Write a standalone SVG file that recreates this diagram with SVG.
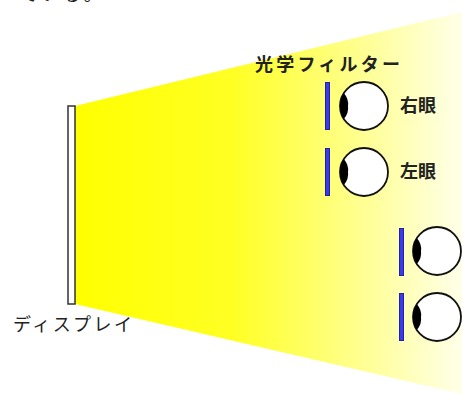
<svg xmlns="http://www.w3.org/2000/svg" width="462" height="394" viewBox="0 0 462 394">
  <defs>
    <linearGradient id="beam" gradientUnits="userSpaceOnUse" x1="75" y1="0" x2="470" y2="0">
      <stop offset="0" stop-color="#ffff00"/>
      <stop offset="0.4" stop-color="#ffff24"/>
      <stop offset="0.72" stop-color="#ffff90"/>
      <stop offset="1" stop-color="#fffff0"/>
    </linearGradient>
    <!-- eye: white eyeball with a dark lens on the side facing the display -->
    <g id="eye">
      <circle cx="0" cy="0" r="24" fill="#ffffff" stroke="#111111" stroke-width="1.8"/>
      <path d="M -20.2,-13 A 24 24 0 0 0 -20.2,13 Q -15,7 -16,0 Q -15,-7 -20.2,-13 Z" fill="#000000"/>
    </g>
  </defs>
  <style>
    text { font-family: "Noto Sans CJK JP", "Noto Sans", sans-serif; fill: #222222; font-weight: 700; }
    .thin { font-weight: 400; }
    .filter { fill: #3a3af0; stroke: #22229a; stroke-width: 1; }
  </style>

  <rect width="462" height="394" fill="#ffffff"/>

  <!-- caption fragment at the top edge -->
  <text class="thin" x="19" y="1" font-size="19" letter-spacing="2.5">ている。</text>

  <!-- light spreading from the display -->
  <polygon id="light" points="75,106 462,12 462,394 75,304" fill="url(#beam)"/>

  <g id="display">
    <rect x="68" y="106" width="7" height="198" fill="#ffffff" stroke="#333333" stroke-width="1.5"/>
    <text class="thin" x="13" y="331" font-size="18" textLength="119" lengthAdjust="spacing">ディスプレイ</text>
  </g>

  <g id="filter-label">
    <text x="255" y="71" font-size="18" textLength="145" lengthAdjust="spacing">光学フィルター</text>
  </g>

  <g id="viewer-1-right">
    <rect class="filter" x="325.5" y="82.5" width="4" height="47"/>
    <use href="#eye" x="364" y="106"/>
    <text x="400" y="112" font-size="18">右眼</text>
  </g>

  <g id="viewer-1-left">
    <rect class="filter" x="325.5" y="148.5" width="4" height="47"/>
    <use href="#eye" x="364" y="172"/>
    <text x="400" y="178" font-size="18">左眼</text>
  </g>

  <g id="viewer-2-right">
    <rect class="filter" x="399.5" y="228.5" width="4" height="47"/>
    <use href="#eye" x="437" y="251"/>
  </g>

  <g id="viewer-2-left">
    <rect class="filter" x="399.5" y="293.5" width="4" height="47"/>
    <use href="#eye" x="437" y="317"/>
  </g>
</svg>
